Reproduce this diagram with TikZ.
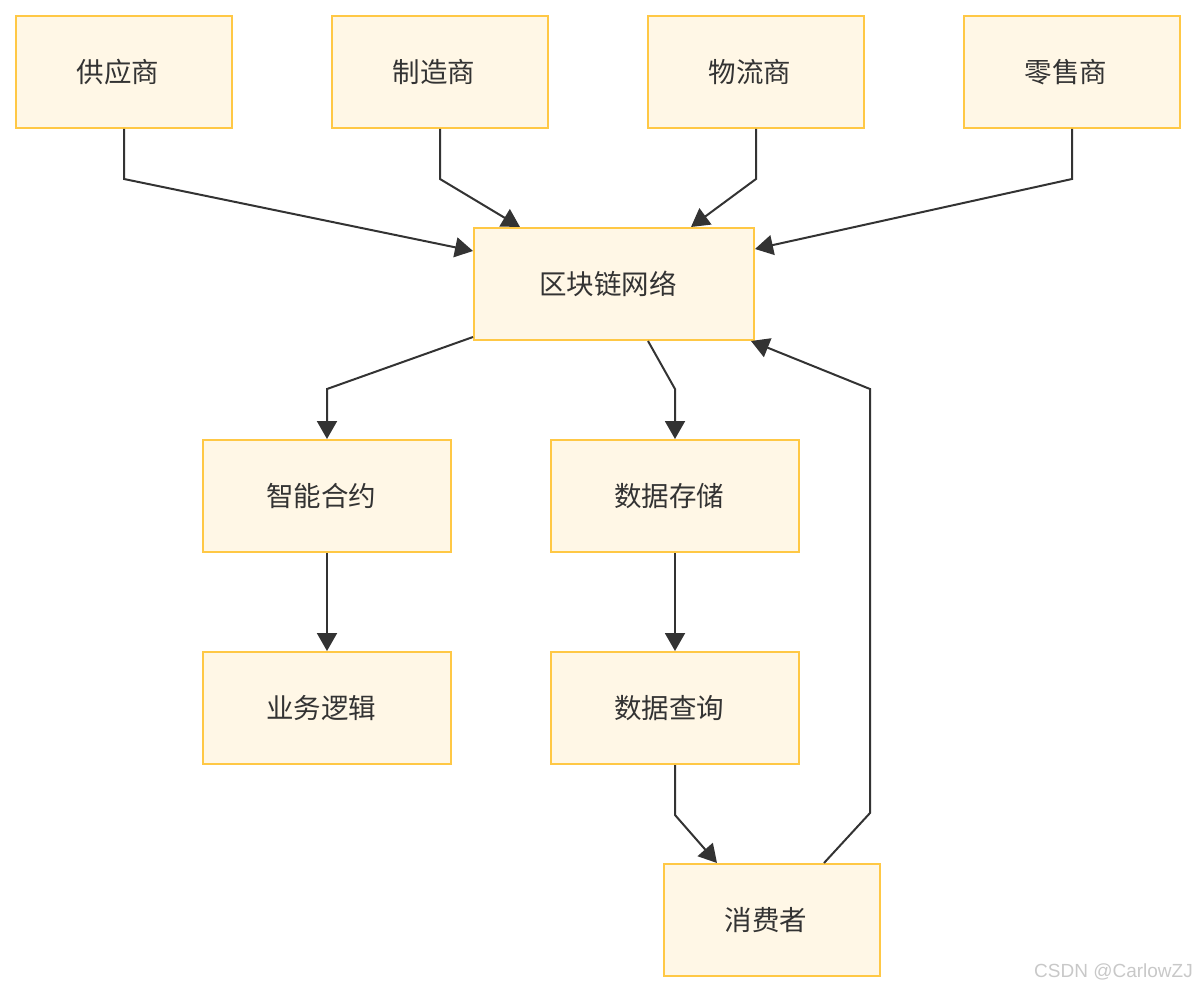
\documentclass[tikz,border=0pt]{standalone}
\usepackage{fontspec}
\setmainfont{Noto Sans CJK SC}
\newfontfamily\wmfont{Liberation Sans}
\usetikzlibrary{arrows.meta,calc}
\definecolor{boxfill}{HTML}{FFF7E6}
\definecolor{boxline}{HTML}{FFC845}
\definecolor{ink}{HTML}{333333}
\definecolor{wm}{HTML}{C8C8C8}
\newcommand{\lbl}[1]{#1\hspace*{12pt}}
\tikzset{
  box/.style={draw=boxline, fill=boxfill, line width=2pt, minimum height=112pt, inner sep=0pt, text=ink, font=\fontsize{27.5}{32}\selectfont},
  sbox/.style={box, minimum width=216pt},
  wbox/.style={box, minimum width=248pt},
  arr/.style={draw=ink, line width=2pt, -{Triangle[length=18pt,width=20pt]}},
}
\begin{document}
\begin{tikzpicture}[x=1pt,y=-1pt]
\useasboundingbox (0,0) rectangle (1196,992);
\node[sbox] (sup) at (124,72) {\lbl{供应商}};
\node[sbox] (man) at (440,72) {\lbl{制造商}};
\node[sbox] (log) at (756,72) {\lbl{物流商}};
\node[sbox] (ret) at (1072,72) {\lbl{零售商}};
\node[box, minimum width=280pt] (chain) at (614,284) {\lbl{区块链网络}};
\node[wbox] (smart) at (327,496) {\lbl{智能合约}};
\node[wbox] (store) at (675,496) {\lbl{数据存储}};
\node[wbox] (biz) at (327,708) {\lbl{业务逻辑}};
\node[wbox] (query) at (675,708) {\lbl{数据查询}};
\node[sbox] (cons) at (772,920) {\lbl{消费者}};
\draw[arr] (sup.south) -- ++(0,50) -- ([yshift=-24pt]chain.north west);
\draw[arr] (man.south) -- ++(0,50) -- ([xshift=47pt]chain.north west);
\draw[arr] (log.south) -- ++(0,50) -- ([xshift=-64pt]chain.north east);
\draw[arr] (ret.south) -- ++(0,50) -- ([yshift=-22pt]chain.north east);
\draw[arr] ([yshift=4pt]chain.south west) -- ([yshift=50pt]smart.north) -- (smart.north);
\draw[arr] ([xshift=-107pt]chain.south east) -- ([yshift=50pt]store.north) -- (store.north);
\draw[arr] (smart.south) -- (biz.north);
\draw[arr] (store.south) -- (query.north);
\draw[arr] (query.south) -- ++(0,50) -- ([xshift=54pt]cons.north west);
\draw[arr] ([xshift=-57pt]cons.north east) -- ++(46,-50) -- ++(0,-424) -- ([xshift=-4pt]chain.south east);
\node[anchor=east, text=wm, font=\wmfont\fontsize{19}{22}\selectfont, inner sep=0pt] (mark) at (1193,972) {CSDN @CarlowZJ};
\end{tikzpicture}
\end{document}
